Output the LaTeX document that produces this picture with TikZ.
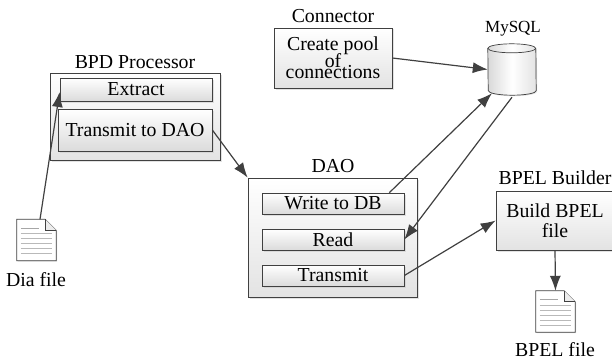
\documentclass[tikz,border=0pt]{standalone}
\usepackage{fontspec}
\setmainfont{Liberation Serif}
\usetikzlibrary{arrows.meta, shadows}

% page icon with a folded corner, centred on a named node
\newcommand{\docicon}[3]{%
    \node [docbase] (#1) at (#2pt,-#3pt) {};
    \draw [boxline, fill=white, drop shadow={shadow xshift=1pt, shadow yshift=-1pt, fill=gray!45}]
        (#1.north west) -- ([xshift=-11pt]#1.north east) -- ([yshift=-11pt]#1.north east)
        -- (#1.south east) -- (#1.south west) -- cycle;
    \draw [boxline, fill=gray!15] ([xshift=-11pt]#1.north east) -- ([xshift=-11pt,yshift=-11pt]#1.north east)
        -- ([yshift=-11pt]#1.north east);
    \draw [gray!70, line width=0.8pt] ([xshift=4pt,yshift=-9pt]#1.north west) -- ([xshift=22pt,yshift=-9pt]#1.north west);
    \foreach \ypos in {14,19,24,29,34}
        \draw [gray!55, line width=0.6pt] ([xshift=4pt,yshift=-\ypos pt]#1.north west) -- ([xshift=-4pt,yshift=-\ypos pt]#1.north east);
}

% database drum, drawn round a named node
\newcommand{\dbicon}[3]{%
    \node [dbbase] (#1) at (#2pt,-#3pt) {};
    \draw [boxline, left color=gray!30, right color=gray!22, middle color=white, drop shadow={shadow xshift=1pt, shadow yshift=-1pt, fill=gray!45}]
        ([yshift=-4.5pt]#1.north west) arc[start angle=180, end angle=0, x radius=24pt, y radius=4.5pt]
        -- ([yshift=4.5pt]#1.south east) arc[start angle=0, end angle=-180, x radius=24pt, y radius=4.5pt] -- cycle;
    \draw [boxline] ([yshift=-4.5pt]#1.north west) arc[start angle=180, end angle=360, x radius=24pt, y radius=4.5pt];
}

\begin{document}
\begin{tikzpicture}[
    boxline/.style={draw=black!75, line width=0.7pt},
    outerbox/.style={boxline, rectangle, top color=white, bottom color=gray!22, inner sep=0pt, drop shadow={shadow xshift=1.5pt, shadow yshift=-1.5pt, fill=gray!45}},
    innerbox/.style={outerbox, top color=white, bottom color=gray!28},
    docbase/.style={rectangle, minimum width=39pt, minimum height=41pt, inner sep=0pt},
    dbbase/.style={rectangle, minimum width=48pt, minimum height=51pt, inner sep=0pt},
    caption/.style={font=\fontsize{19.8}{20}\selectfont, inner sep=0pt},
    boxtext/.style={font=\fontsize{19.8}{20}\selectfont, align=center},
    line/.style={draw=black!75, line width=1.2pt, -{Latex[length=15pt,width=11pt]}}
]
    \useasboundingbox (0pt,0pt) rectangle (612pt,-361pt);

    % BPD side
    \node [outerbox, minimum width=170pt, minimum height=87pt] (bpd) at (135pt,-116.5pt) {};
    \node [innerbox, boxtext, minimum width=152pt, minimum height=23pt] (extract) at (136pt,-89.5pt) {Extract};
    \node [innerbox, boxtext, minimum width=154pt, minimum height=42pt] (transmitdao) at (135pt,-130pt) {Transmit to DAO};
    \node [caption] (bpdlabel) at (135pt,-62pt) {BPD Processor};

    % connector and database
    \node [outerbox, boxtext, font=\fontsize{19.8}{14}\selectfont, minimum width=118pt, minimum height=60pt] (connector) at (333pt,-58pt) {Create pool\\[-2.5pt]of\\[-2.5pt]connections};
    \node [caption] (connectorlabel) at (333pt,-16pt) {Connector};
    \dbicon{mysql}{512}{69.5}
    \node [caption, font=\fontsize{17}{18}\selectfont] (mysqllabel) at (513pt,-29pt) {MySQL};

    % DAO
    \node [outerbox, minimum width=169pt, minimum height=119pt] (dao) at (332.5pt,-237.5pt) {};
    \node [caption] (daolabel) at (333pt,-166pt) {DAO};
    \node [innerbox, boxtext, minimum width=142pt, minimum height=21pt] (write) at (333pt,-203.5pt) {Write to DB};
    \node [innerbox, boxtext, minimum width=142pt, minimum height=21pt] (read) at (333pt,-239.5pt) {Read};
    \node [innerbox, boxtext, minimum width=142pt, minimum height=21pt] (transmit) at (333pt,-275.5pt) {Transmit};

    % BPEL side
    \node [outerbox, boxtext, minimum width=118pt, minimum height=59pt] (builder) at (555pt,-220.5pt) {Build BPEL\\file};
    \node [caption] (builderlabel) at (555pt,-178pt) {BPEL Builder};
    \docicon{bpelfile}{555.5}{311.5}
    \node [caption] (bpelfilelabel) at (555pt,-350pt) {BPEL file};
    \docicon{diafile}{36.5}{240}
    \node [caption] (dialabel) at (36pt,-280pt) {Dia file};

    \path [line] ([xshift=3.5pt]diafile.north) -- ([yshift=-2.5pt]extract.west);
    \path [line] (transmitdao.east) -- (dao.north west);
    \path [line] (connector.east) -- (mysql.west);
    \path [line] ([xshift=-15pt]write.north east) -- ([xshift=-20pt,yshift=2pt]mysql.south);
    \path [line] ([yshift=-2pt]mysql.south) -- (read.east);
    \path [line] (transmit.east) -- (builder.west);
    \path [line] (builder.south) -- (bpelfile.north);
\end{tikzpicture}
\end{document}
